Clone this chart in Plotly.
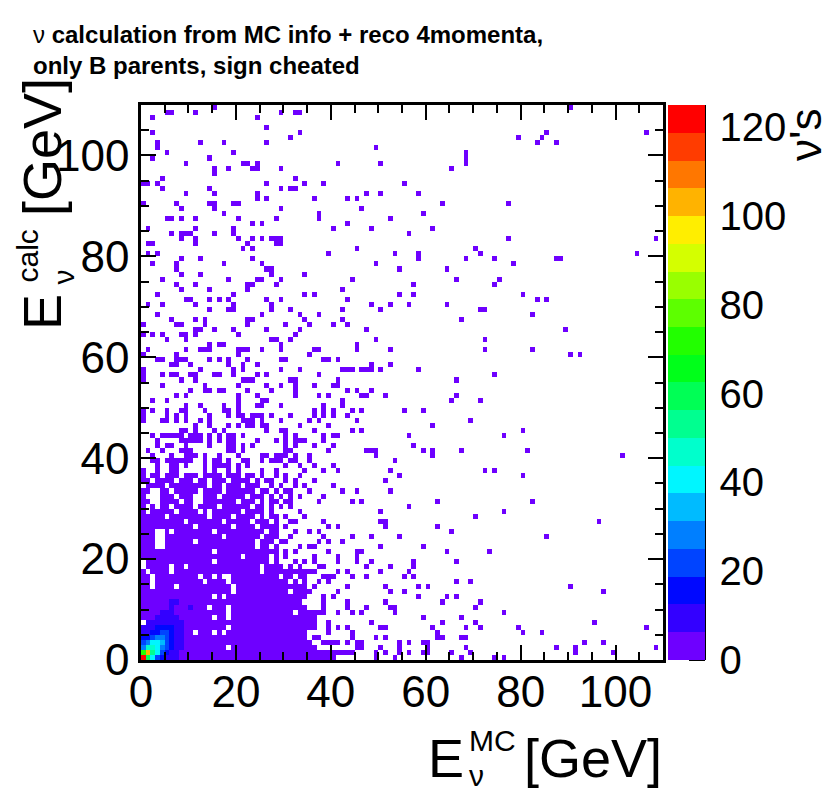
import colorsys
import numpy as np
import plotly.graph_objects as go

# ---------------- data ----------------
n_bins = 110
e_edges = np.arange(0, 111, 1.0)          # 1 GeV bins, 0..110 GeV
e_centers = (e_edges[:-1] + e_edges[1:]) / 2

z_ticks = [0, 20, 40, 60, 80, 100, 120]
axis_ticks = [0, 20, 40, 60, 80, 100]

# occupancy of the dense region: row index = E_calc bin (0..36), char index = E_MC bin (0..41)
dense_rows = [
    "1111111111" "1111111111" "1111111111" "11111" "111111.",   # y0
    "1111111111" "1111111111" "1111111111" "11111" "1111111",   # y1
    "1111111111" "11111111.1" "1111111111" "11111" "11.....",   # y2
    "1111111111" "1111111111" "1111111111" "11111" "1..1111",   # y3
    "1111111111" "1111111111" "1111111111" "11111" ".11....",   # y4
    "1111111111" "1.111.1.11" "1111111111" "11111" "....1..",   # y5
    "1111111111" "11111111.1" "1111111111" "11111" "11..1.1",   # y6
    ".111111111" "1111111111" "1111111111" "11111" "11..1..",   # y7
    "1111111111" "11111.11.1" "1111111111" "11111" "11.....",   # y8
    "1111111111" "11111111.1" "1111111111" "11.11" "1111..1",   # y9
    "1111111111" "1111.111.1" "1111111111" "11111" "...1...",   # y10
    "1111111111" "1111111111" "1111111111" "1111." "...1...",   # y11
    "1111111111" "11111.1.11" "1111111111" "11111" "...1.1.",   # y12
    "1111111111" "111111111." "1111111111" "1.111" "1.....1",   # y13
    "11.1111.11" "111111111." "1111111111" "11111" ".1.....",   # y14
    "11.1111111" "111.1111.1" "1111111111" "1.1.1" "..1.1..",   # y15
    "11.1111111" "11.11.1..1" "111111111." "11.11" "...111.",   # y16
    "1.1111.111" "1111111111" "11111.1111" "11111" "11....1",   # y17
    ".11111.11." "1111111111" "11111.1111" ".1.1." "..11...",   # y18
    ".111111111" "11111.1111" "1111111.1." "..1.1" ".1....1",   # y19
    "1111111111" "1111111111" "1.11111.1." "1...." ".1....1",   # y20
    "1111111111" "11111.1111" "111111111." "1.1.." "....1..",   # y21
    "111..11111" "1111111111" "1111.11.1." "...1." "11.....",   # y22
    "111..11111" "1.11111111" "1111.111.1" "1...." "..1.1..",   # y23
    "111..11111" "1111111.11" "11111.111." ".1..." "...1...",   # y24
    "111..1.111" "11111.1111" "111111.11." "..1.." "1.1....",   # y25
    "1111111111" "1.1111111." "1111.1111." "1...." "....1.1",   # y26
    "111111111." "1111111.11" "111.111.1." ".11.." "...1...",   # y27
    "11111.1111" "1111.1111." "1111.1.11." "1...1" ".......",   # y28
    "1.11111.11" "11.1.11111" "1.1111.1.." "...1." ".......",   # y29
    "1.1.11.111" "1.1111.111" "111.11.1.1" ".1..." ".......",   # y30
    "11..1111.1" "1..1111111" ".111.1.11." "11..." "..1....",   # y31
    "1...111.11" "1..111.111" "11.111.1.1" ".1.1." "...1...",   # y32
    "11..11.111" "11.1111.11" "1111.11.1." "11..." "1......",   # y33
    ".1111.1111" "1111.11.11" "1.111..1.1" "..1.1" ".....1.",   # y34
    "11.1111.11" "1.11.111.1" "111.1.11.." "1.1.." ".1.....",   # y35
    "1.11.111.1" "11.1111.11" "1.11.1..1." "1..1." ".......",   # y36
]
dense_count = 3   # typical content of a filled low-count bin (first colour band)

# counts of the hot core: row = E_calc bin 0..12, column = E_MC bin 0..12
core_counts = [
    [121, 62, 40, 22, 16, 11,  8,  7,  6,  5,  5,  4,  4],
    [ 70,104, 52, 42, 24, 15, 10,  8,  6,  5,  5,  4,  4],
    [ 28, 44, 46, 42, 28, 20, 13,  9,  7,  6,  5,  4,  4],
    [ 20, 30, 38, 40, 32, 22, 15, 10,  7,  6,  5,  4,  4],
    [ 14, 18, 24, 28, 30, 24, 16, 11,  8,  6,  5,  5,  4],
    [  9, 12, 15, 18, 20, 22, 15, 10,  8,  6,  5,  0,  4],
    [  7,  9, 11, 13, 15, 16, 13, 10,  7,  6,  5,  5,  4],
    [  0,  7,  8,  9, 10, 10,  9,  8,  7,  6,  5,  4,  4],
    [  5,  6,  6,  7,  8,  8,  8,  7,  6,  5,  5,  4,  4],
    [  4,  5,  5,  6,  7,  7,  8,  6,  5,  5,  6,  5,  4],
    [  4,  4,  5,  5,  6,  6,  7,  6,  5,  6,  7,  5,  4],
    [  4,  4,  4,  5,  5,  6,  8,  7,  5,  5,  5,  4,  4],
    [  3,  4,  4,  4,  5,  5,  6,  5,  4,  4,  4,  4,  3],
]

# isolated low-count bins (E_MC bin, E_calc bin)
single_hits = [
    # upper-left block
    (2,107),(5,108),(6,108),(11,108),(15,109),(24,107),(29,108),(32,108),(33,108),(26,105),
    (2,104),(33,104),(31,103),(3,102),(3,101),(12,102),(17,102),(26,102),(5,100),(19,100),
    (2,99),(9,98),(14,99),(21,98),(22,98),(24,98),(24,97),(23,97),(15,97),(15,96),(18,97),
    (29,97),(4,95),(0,94),(1,94),(3,94),(4,93),(9,92),(14,93),(15,92),(26,94),(24,92),(24,91),
    (26,91),(29,93),(31,93),(32,93),(32,95),(34,94),(36,91),(0,90),(7,90),(8,89),(14,90),
    (15,90),(15,89),(19,90),(20,90),(29,89),(17,88),(5,87),(6,87),(8,87),(11,87),(20,87),
    (28,87),(23,86),(25,86),(1,85),(11,85),(19,85),(19,84),(6,84),(8,84),(9,84),(10,84),
    (8,83),(11,83),(11,82),(15,84),(20,83),(23,83),(25,83),(27,83),(28,83),(29,83),(28,82),
    (29,82),(22,82),(21,81),(23,81),(1,82),(2,82),(1,80),(3,80),(2,78),(8,79),(12,79),(7,78),
    (7,77),(8,76),(12,76),(17,78),(23,79),(25,78),(26,77),(27,77),(27,76),(29,75),(34,76),
    (4,75),(18,75),(24,75),(25,75),(7,74),(11,74),(22,74),(23,74),(28,74),(8,73),(22,73),
    # upper-middle block
    (49,101),(41,98),(50,98),(68,100),(68,99),(68,98),(65,97),(38,94),(55,94),(43,91),(45,91),
    (47,92),(50,92),(58,92),(63,90),(46,89),(37,88),(37,87),(52,87),(59,88),(40,85),(43,86),
    (48,85),(61,85),(56,84),(45,81),(39,80),(53,80),(58,80),(58,79),(70,81),(71,80),(68,79),
    (49,78),(54,77),(64,77),(44,75),(66,75),(57,74),(42,73),
    # upper-right block
    (90,109),(79,103),(83,102),(84,103),(85,104),(87,102),(106,104),(77,90),(77,83),(108,83),
    (74,79),(78,78),(87,79),(88,79),(104,80),(75,75),(74,74),
    # middle-left block
    (14,73),(3,72),(19,72),(34,72),(36,72),(9,71),(10,71),(14,71),(16,71),(18,71),(26,71),
    (29,71),(1,70),(4,70),(11,70),(19,70),(27,70),(14,69),(18,69),(19,69),(27,69),(31,69),
    (3,68),(25,68),(33,68),(6,67),(11,67),(13,67),(22,67),(23,67),(34,67),(0,66),(7,66),(8,66),
    (13,66),(22,66),(30,66),(35,66),(11,65),(12,65),(15,65),(19,65),(26,65),(33,65),(0,64),
    (2,64),(4,64),(8,64),(9,64),(11,64),(20,64),(32,64),(5,63),(9,63),(27,63),(28,63),(31,63),
    (14,62),(16,62),(17,62),(29,62),(1,61),(9,61),(12,61),(13,61),(14,61),(20,61),(21,61),
    (22,61),(25,61),(29,61),(0,60),(7,60),(20,60),(35,60),(3,59),(4,59),(7,59),(8,59),(9,59),
    (14,59),(16,59),(18,59),(22,59),(29,59),(30,59),(6,58),(7,58),(10,58),(18,58),(21,58),
    (24,58),(0,57),(12,57),(19,57),(21,57),(29,57),(33,57),(0,56),(4,56),(6,56),(7,56),(10,56),
    (11,56),(15,56),(16,56),(19,56),(24,56),(26,56),(0,55),(8,55),(11,55),(21,55),(22,55),
    (23,55),(31,55),(32,55),(4,54),(13,54),(20,54),(26,54),(29,54),(32,54),(36,54),(10,53),
    (13,53),(14,53),(16,53),(17,53),(22,53),(27,53),(32,53),(7,52),(9,52),(20,52),(24,52),
    (32,52),(2,51),(5,51),(20,51),(25,51),(26,51),(9,50),(12,50),(17,50),(20,50),(24,50),
    (25,50),(29,50),(0,49),(2,49),(5,49),(8,49),(9,49),(13,49),(17,49),(18,49),(20,49),(36,49),
    (0,48),(5,48),(7,48),(9,48),(14,48),(18,48),(20,48),(21,48),(23,48),(24,48),(25,48),(27,48),
    (31,48),(0,47),(4,47),(5,47),(7,47),(9,47),(12,47),(14,47),(21,47),(22,47),(23,47),(25,47),
    (29,47),(35,47),(11,46),(14,46),(18,46),(20,46),(22,46),(23,46),(25,46),(26,46),(33,46),
    (8,45),(9,45),(11,45),(15,45),(17,45),(26,45),(29,45),(30,45),(36,45),(2,44),(4,44),(5,44),
    (6,44),(7,44),(8,44),(10,44),(11,44),(12,44),(14,44),(16,44),(18,44),(19,44),(21,44),
    (30,44),(32,44),(3,43),(8,43),(9,43),(10,43),(11,43),(12,43),(14,43),(16,43),(18,43),
    (19,43),(24,43),(28,43),(30,43),(32,43),(33,43),(34,43),(3,42),(5,42),(6,42),(9,42),(14,42),
    (18,42),(19,42),(21,42),(23,42),(30,42),(32,42),(1,41),(4,41),(8,41),(9,41),(10,41),(18,41),
    (19,41),(21,41),(30,41),(31,41),(2,40),(6,40),(9,40),(10,40),(11,40),(13,40),(16,40),
    (20,40),(25,40),(26,40),(28,40),(29,40),(30,40),(32,40),(35,40),(2,39),(3,39),(5,39),(6,39),
    (7,39),(8,39),(9,39),(10,39),(13,39),(15,39),(16,39),(18,39),(21,39),(22,39),(25,39),
    (27,39),(28,39),(29,39),(31,39),(32,39),(3,38),(6,38),(7,38),(9,38),(13,38),(15,38),(16,38),
    (17,38),(18,38),(20,38),(22,38),(30,38),(33,38),(0,37),(3,37),(6,37),(7,37),(13,37),(15,37),
    (18,37),(20,37),(25,37),(28,37),(34,37),
    # middle block
    (42,73),(36,72),(54,72),(57,72),(43,71),(48,70),(52,70),(56,70),(64,70),(42,69),(50,69),
    (71,69),(72,69),(37,68),(42,67),(67,67),(40,66),(43,66),(47,65),(49,63),(72,63),(45,62),
    (45,61),(36,61),(37,61),(52,61),(72,61),(38,59),(39,59),(41,59),(52,58),(48,58),(48,57),
    (42,57),(43,57),(44,57),(46,57),(47,57),(50,57),(58,57),(37,56),(41,55),(41,54),(40,54),
    (66,55),(43,53),(45,53),(48,53),(37,52),(39,52),(46,52),(47,52),(51,52),(66,52),(42,51),
    (42,50),(65,51),(71,51),(38,50),(38,49),(38,48),(40,49),(40,48),(44,49),(46,49),(55,49),
    (59,49),(36,48),(43,48),(37,47),(45,47),(69,47),(39,46),(61,46),(44,45),(46,45),(38,44),
    (38,43),(40,44),(41,44),(56,44),(36,42),(40,42),(57,42),(39,41),(47,41),(48,41),(49,41),
    (49,40),(59,41),(61,41),(61,40),(67,41),(53,39),(35,39),(36,38),(40,38),(38,37),(41,37),
    (52,37),(72,37),
    # middle-right block
    (80,72),(83,71),(85,71),(82,68),(89,65),(82,61),(90,60),(92,60),(74,56),(80,45),(76,44),
    (81,41),(101,40),(74,37),(80,36),
    # lower-middle block
    (54,36),(51,35),(42,33),(45,33),(52,33),(44,31),(46,31),(62,31),(56,30),(50,29),(70,28),
    (50,27),(51,27),(51,26),(62,26),(65,25),(44,24),(48,24),(54,24),(42,23),(50,22),(59,22),
    (45,21),(46,21),(64,21),(73,21),(45,20),(45,19),(48,19),(57,19),(57,18),(66,19),(47,18),
    (52,18),(43,17),(50,17),(56,17),(44,16),(47,16),(55,16),(57,16),(43,14),(51,14),(58,14),
    (60,14),(66,15),(69,15),(52,13),(55,13),(58,12),(64,12),(66,12),(43,11),(43,10),(51,11),
    (52,10),(53,10),(53,9),(47,10),(63,11),(71,11),(70,10),(44,9),(46,9),(48,7),(59,8),(67,8),
    (63,7),(70,7),(43,6),(50,6),(51,6),(61,6),(68,6),(71,6),(44,5),(44,4),(62,5),(62,4),(63,4),
    (49,4),(51,4),(67,4),(68,4),(43,3),(45,3),(46,3),(45,2),(46,2),(50,2),(54,3),(54,2),(56,3),
    (59,3),(60,3),(60,2),(68,2),(42,1),(43,1),(44,1),(49,1),(51,1),(54,1),(56,1),(59,1),(60,1),
    (65,1),(69,1),(49,0),(53,0),(67,0),
    # lower-right block
    (82,31),(76,29),(96,27),(85,24),(90,14),(97,13),(76,9),(95,7),(106,6),(79,6),(80,5),(84,5),
    (87,2),(91,2),(91,1),(93,3),(97,3),(99,1),(108,2),(74,0),(76,0),
]

# ---------------- build histogram ----------------
z = np.full((n_bins, n_bins), np.nan)
for iy, row in enumerate(dense_rows):
    assert len(row) == 42, (iy, len(row))
    for ix, c in enumerate(row):
        if c == "1":
            z[iy, ix] = dense_count
for ix, iy in single_hits:
    if np.isnan(z[iy, ix]):
        z[iy, ix] = 1
for iy, row in enumerate(core_counts):
    for ix, v in enumerate(row):
        z[iy, ix] = v if v > 0 else np.nan

Z_MAX = 125.0
# ROOT-like "pretty palette": 20 discrete bands violet -> red
n_lev = 20
colorscale = []
for k in range(n_lev):
    h = 266.0 * (1 - k / (n_lev - 1)) / 360.0
    r, g, b = colorsys.hls_to_rgb(h, 0.5, 1.0)
    col = f"rgb({int(round(r*255))},{int(round(g*255))},{int(round(b*255))})"
    colorscale.append([k / n_lev, col])
    colorscale.append([(k + 1) / n_lev, col])

FONT = "Liberation Sans, Arial, Helvetica, sans-serif"

# page geometry (the page body has an 8 px margin)
BODY = 8
W, H = 830, 806
L, R, T, B = 141, 663, 105, 660     # plot-area edges in page pixels
CB_L, CB_R = 668, 705               # colour bar edges in page pixels

def px(xp):
    return (xp - L) / (R - L)
def py(yp):
    return (B - yp) / (B - T)

fig = go.Figure()
fig.add_trace(go.Heatmap(
    x=e_centers, y=e_centers, z=z,
    zmin=0, zmax=Z_MAX, colorscale=colorscale, zsmooth=False,
    hoverongaps=False,
    colorbar=dict(
        x=px(CB_L), xanchor="left", xpad=0, ypad=0,
        y=0.5, yanchor="middle", len=1.0, lenmode="fraction",
        thickness=CB_R - CB_L, outlinewidth=0,
        tickvals=z_ticks, ticks="outside", ticklen=7, tickwidth=1,
        tickcolor="rgba(0,0,0,0)",
        tickfont=dict(family=FONT, size=40, color="black"),
    ),
))

axis_common = dict(
    range=[0, 110], showgrid=False, zeroline=False,
    showline=True, linecolor="black", linewidth=2.5, mirror="ticks",
    ticks="inside", ticklen=15, tickwidth=2, tickcolor="black",
    tickvals=axis_ticks,
    minor=dict(dtick=5, ticks="inside", ticklen=8, tickwidth=2, tickcolor="black"),
    tickfont=dict(family=FONT, size=44, color="black"),
)
fig.update_xaxes(**axis_common, ticklabelstandoff=-9)
fig.update_yaxes(**axis_common)

def note(text, x, y, size, xanchor="center", yanchor="middle", angle=0, align="center"):
    return dict(text=text, xref="paper", yref="paper", x=px(x), y=py(y),
                xanchor=xanchor, yanchor=yanchor, textangle=angle, align=align,
                font=dict(family=FONT, size=size, color="black"), showarrow=False)

TITLE_SIZE = 54
SCRIPT_SIZE = 30

ann = []
# top-left caption
ann.append(note("ν <b>calculation from MC info + reco 4momenta,</b><br><b>only B parents, sign cheated</b>",
                31, 50, 24, xanchor="left", yanchor="middle", align="left"))
# x-axis title: E with stacked sub/superscript
ann += [
    note("E", 466, 758, TITLE_SIZE, xanchor="right"),
    note("MC", 467, 759, SCRIPT_SIZE, xanchor="left", yanchor="bottom"),
    note("ν", 467, 757, SCRIPT_SIZE, xanchor="left", yanchor="top"),
    note("[GeV]", 664, 758, TITLE_SIZE, xanchor="right"),
]
# y-axis title (rotated)
ann += [
    note("E", 42, 312, TITLE_SIZE, angle=-90),
    note("calc", 45, 256, SCRIPT_SIZE, angle=-90, xanchor="right"),
    note("ν", 44, 277, SCRIPT_SIZE, angle=-90, xanchor="left"),
    note("[GeV]", 42, 147, TITLE_SIZE, angle=-90),
]
# colour-axis title
ann.append(note("ν's", 805, 135, 44, angle=-90))

shapes = [
    # right border line of the colour bar
    dict(type="line", xref="paper", yref="paper", x0=px(CB_R), x1=px(CB_R), y0=0, y1=1,
         line=dict(color="black", width=2)),
]
# colour-bar ticks pointing into the bar
for v in z_ticks:
    shapes.append(dict(type="line", xref="paper", yref="paper",
                       x0=px(CB_R - 16), x1=px(CB_R), y0=v / Z_MAX, y1=v / Z_MAX,
                       line=dict(color="black", width=2)))

fig.update_layout(
    width=W - BODY, height=H - BODY,
    margin=dict(l=L - BODY, r=(W - BODY) - (R - BODY), t=T - BODY, b=(H - BODY) - (B - BODY)),
    paper_bgcolor="white", plot_bgcolor="white",
    annotations=ann, shapes=shapes,
    showlegend=False,
)

fig.write_html("out.html")
